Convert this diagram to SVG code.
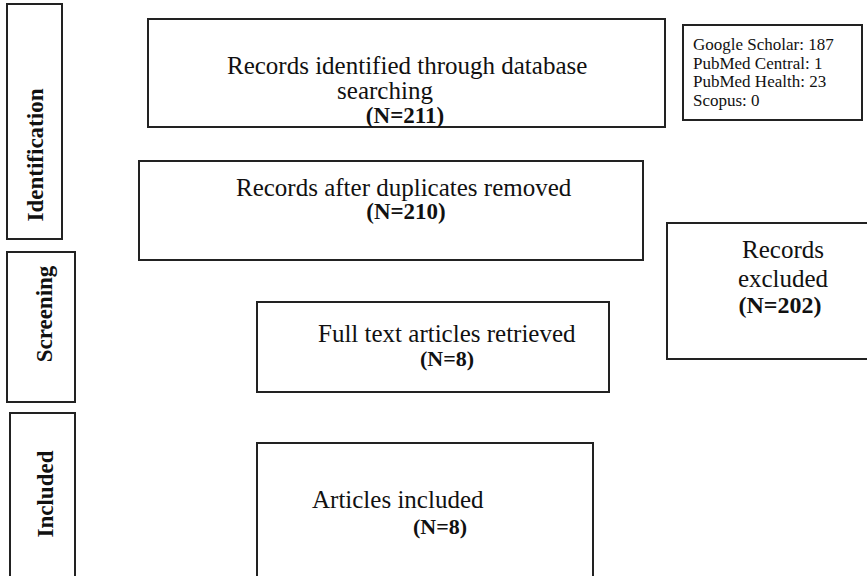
<svg xmlns="http://www.w3.org/2000/svg" width="867" height="576" viewBox="0 0 867 576">
  <style>
    .box { fill: #ffffff; stroke: #222222; stroke-width: 2; }
    .txt { font-family: "Liberation Serif", "Times New Roman", serif; fill: #111111; }
    .main { font-size: 25px; }
    .num { font-weight: bold; }
    .src { font-size: 17px; }
    .phase { font-size: 23px; font-weight: bold; }
  </style>
  <rect width="867" height="576" fill="#ffffff"/>

  <!-- phase labels on the left -->
  <g id="phase-identification">
    <rect class="box" x="7" y="4" width="55" height="235"/>
    <text class="txt phase" transform="translate(43,155) rotate(-90)" text-anchor="middle">Identification</text>
  </g>
  <g id="phase-screening">
    <rect class="box" x="7" y="252" width="68" height="150"/>
    <text class="txt phase" transform="translate(52,314) rotate(-90)" text-anchor="middle">Screening</text>
  </g>
  <g id="phase-included">
    <rect class="box" x="10" y="413" width="65" height="180"/>
    <text class="txt phase" transform="translate(53,494) rotate(-90)" text-anchor="middle">Included</text>
  </g>

  <!-- flow boxes -->
  <g id="identified">
    <rect class="box" x="148" y="19" width="517" height="108"/>
    <text class="txt main" x="227" y="74">Records identified through database</text>
    <text class="txt main" x="385" y="99" text-anchor="middle">searching</text>
    <text class="txt num" x="405" y="123" text-anchor="middle" font-size="23">(N=211)</text>
  </g>

  <g id="sources">
    <rect class="box" x="683" y="25" width="179" height="95"/>
    <text class="txt src" x="693" y="50">Google Scholar: 187</text>
    <text class="txt src" x="693" y="69">PubMed Central: 1</text>
    <text class="txt src" x="693" y="87">PubMed Health: 23</text>
    <text class="txt src" x="693" y="106">Scopus: 0</text>
  </g>

  <g id="deduplicated">
    <rect class="box" x="139" y="161" width="504" height="99"/>
    <text class="txt main" x="236" y="196">Records after duplicates removed</text>
    <text class="txt num" x="406" y="219" text-anchor="middle" font-size="23">(N=210)</text>
  </g>

  <g id="excluded">
    <rect class="box" x="667" y="223" width="210" height="136"/>
    <text class="txt main" x="783" y="258" text-anchor="middle">Records</text>
    <text class="txt main" x="783" y="287" text-anchor="middle">excluded</text>
    <text class="txt num" x="780" y="313" text-anchor="middle" font-size="24">(N=202)</text>
  </g>

  <g id="full-text">
    <rect class="box" x="257" y="302" width="352" height="90"/>
    <text class="txt main" x="318" y="342">Full text articles retrieved</text>
    <text class="txt num" x="447" y="366" text-anchor="middle" font-size="22">(N=8)</text>
  </g>

  <g id="included">
    <rect class="box" x="257" y="443" width="336" height="150"/>
    <text class="txt main" x="312" y="508">Articles included</text>
    <text class="txt num" x="440" y="534" text-anchor="middle" font-size="22">(N=8)</text>
  </g>

  <!-- no arrows join the boxes in this chart -->
  <g id="connectors"></g>
</svg>
